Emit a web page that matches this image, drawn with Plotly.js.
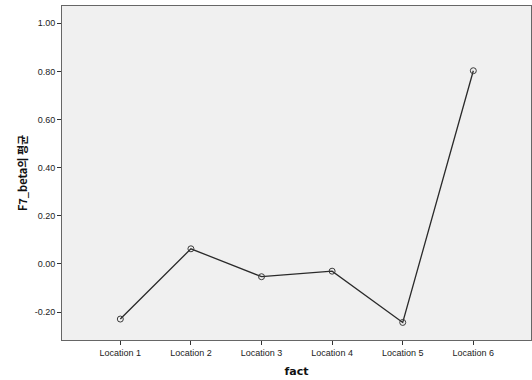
<!DOCTYPE html>
<html>
<head>
<meta charset="utf-8">
<script src="https://cdn.plot.ly/plotly-3.0.1.min.js"></script>
<style>
  html, body { margin: 0; padding: 0; background: #ffffff; }
  #chart { width: 532px; height: 380px; }
</style>
</head>
<body>
<div id="chart"></div>
<script>
// Mean of F7_beta by location
const categories = ["Location 1", "Location 2", "Location 3", "Location 4", "Location 5", "Location 6"];
const meanValues = [-0.229, 0.063, -0.053, -0.030, -0.243, 0.803];
const yTickValues = [-0.2, 0, 0.2, 0.4, 0.6, 0.8, 1.0];
const yTickLabels = ["-0.20", "0.00", "0.20", "0.40", "0.60", "0.80", "1.00"];

const trace = {
  type: "scatter",
  mode: "lines+markers",
  x: categories,
  y: meanValues,
  line: { color: "#2a2a2a", width: 1.3 },
  marker: {
    symbol: "circle-open",
    size: 6,
    color: "#3a3a3a",
    line: { width: 1, color: "#3a3a3a" }
  },
  hoverinfo: "x+y"
};

const layout = {
  width: 532,
  height: 380,
  margin: { l: 62, r: 1, t: 6, b: 40 },
  paper_bgcolor: "#ffffff",
  plot_bgcolor: "#f0f0f0",
  showlegend: false,
  font: { family: "Liberation Sans, Arial, sans-serif", size: 9, color: "#222" },
  xaxis: {
    type: "category",
    range: [-0.826, 5.817],
    showgrid: false,
    zeroline: false,
    showline: true,
    linecolor: "#666",
    linewidth: 1,
    mirror: true,
    ticks: "outside",
    ticklen: 4,
    tickcolor: "#333",
    tickfont: { size: 9, color: "#222" },
    title: {
      text: "fact",
      font: { family: "DejaVu Sans, sans-serif", size: 11, color: "#111", weight: "bold" },
      standoff: 10
    }
  },
  yaxis: {
    range: [-0.316, 1.072],
    tickvals: yTickValues,
    ticktext: yTickLabels,
    showgrid: false,
    zeroline: false,
    showline: true,
    linecolor: "#666",
    linewidth: 1,
    mirror: true,
    ticks: "outside",
    ticklen: 4,
    tickcolor: "#333",
    tickfont: { size: 9, color: "#222" },
    title: {
      text: "F7_beta의 평균",
      font: { family: "Noto Sans CJK KR, DejaVu Sans, sans-serif", size: 11, color: "#111", weight: "bold" },
      standoff: 4
    }
  }
};

Plotly.newPlot("chart", [trace], layout, { displayModeBar: false, staticPlot: true });
</script>
</body>
</html>
